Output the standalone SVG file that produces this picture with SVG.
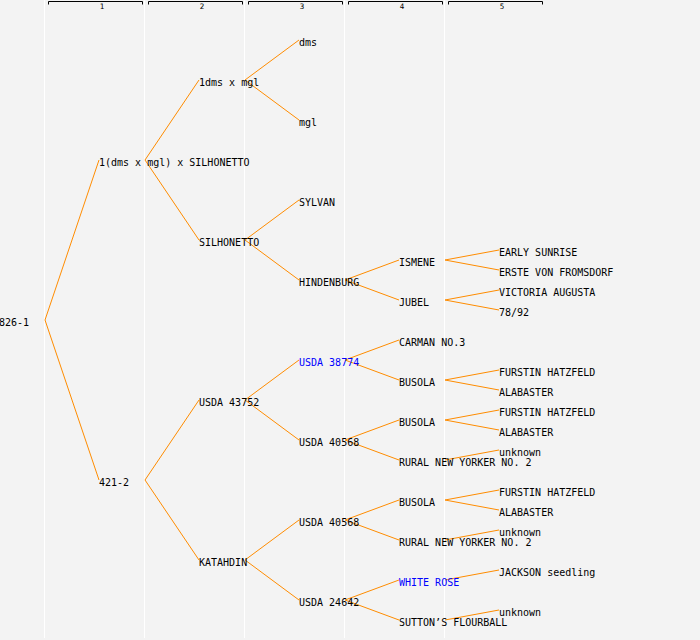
<svg xmlns="http://www.w3.org/2000/svg" width="700" height="640" viewBox="0 0 700 640">
<style>
.t{font-family:"DejaVu Sans Mono","Liberation Mono",monospace;font-size:10px;fill:#000}
.b{fill:#0000ff}
.h{font-family:"DejaVu Sans Mono","Liberation Mono",monospace;font-size:7.5px;fill:#000;text-anchor:middle}
.c{stroke:#ff8c00;stroke-width:1;fill:none}
.col{stroke:#ffffff;stroke-width:1}
.br{stroke:#000;stroke-width:1;fill:none}
</style>
<rect width="700" height="640" fill="#f3f3f3"/>
<g id="columns">
<line class="col" x1="44.5" y1="0" x2="44.5" y2="638"/>
<line class="col" x1="144.5" y1="0" x2="144.5" y2="638"/>
<line class="col" x1="244.5" y1="0" x2="244.5" y2="638"/>
<line class="col" x1="344.5" y1="0" x2="344.5" y2="638"/>
<line class="col" x1="444.5" y1="0" x2="444.5" y2="638"/>
</g>
<g id="header">
<path class="br" d="M48.5,4.5 V1.5 H142.5 V4.5"/>
<path class="br" d="M148.5,4.5 V1.5 H242.5 V4.5"/>
<path class="br" d="M248.5,4.5 V1.5 H342.5 V4.5"/>
<path class="br" d="M348.5,4.5 V1.5 H442.5 V4.5"/>
<path class="br" d="M448.5,4.5 V1.5 H542.5 V4.5"/>
<text class="h" x="102" y="9">1</text>
<text class="h" x="202" y="9">2</text>
<text class="h" x="302" y="9">3</text>
<text class="h" x="402" y="9">4</text>
<text class="h" x="502" y="9">5</text>
</g>
<g id="connectors">
<path class="c" d="M99,160 L45,320 L99,480"/>
<path class="c" d="M199,80 L145,160 L199,240"/>
<path class="c" d="M199,400 L145,480 L199,560"/>
<path class="c" d="M299,40 L245,80 L299,120"/>
<path class="c" d="M299,200 L245,240 L299,280"/>
<path class="c" d="M299,360 L245,400 L299,440"/>
<path class="c" d="M299,520 L245,560 L299,600"/>
<path class="c" d="M399,260 L345,280 L399,300"/>
<path class="c" d="M399,340 L345,360 L399,380"/>
<path class="c" d="M399,420 L345,440 L399,460"/>
<path class="c" d="M399,500 L345,520 L399,540"/>
<path class="c" d="M399,580 L345,600 L399,620"/>
<path class="c" d="M499,250 L445,260 L499,270"/>
<path class="c" d="M499,290 L445,300 L499,310"/>
<path class="c" d="M499,370 L445,380 L499,390"/>
<path class="c" d="M499,410 L445,420 L499,430"/>
<path class="c" d="M499,450 L445,460"/>
<path class="c" d="M499,490 L445,500 L499,510"/>
<path class="c" d="M499,530 L445,540"/>
<path class="c" d="M499,570 L445,580"/>
<path class="c" d="M499,610 L445,620"/>
</g>
<g id="n0"><text class="t" x="-1" y="326">826-1</text></g>
<g id="n1"><text class="t" x="99" y="166">1(dms x mgl) x SILHONETTO</text></g>
<g id="n2"><text class="t" x="99" y="486">421-2</text></g>
<g id="n3"><text class="t" x="199" y="86">1dms x mgl</text></g>
<g id="n4"><text class="t" x="199" y="246">SILHONETTO</text></g>
<g id="n5"><text class="t" x="199" y="406">USDA 43752</text></g>
<g id="n6"><text class="t" x="199" y="566">KATAHDIN</text></g>
<g id="n7"><text class="t" x="299" y="46">dms</text></g>
<g id="n8"><text class="t" x="299" y="126">mgl</text></g>
<g id="n9"><text class="t" x="299" y="206">SYLVAN</text></g>
<g id="n10"><text class="t" x="299" y="286">HINDENBURG</text></g>
<g id="n11"><text class="t b" x="299" y="366">USDA 38774</text></g>
<g id="n12"><text class="t" x="299" y="446">USDA 40568</text></g>
<g id="n13"><text class="t" x="299" y="526">USDA 40568</text></g>
<g id="n14"><text class="t" x="299" y="606">USDA 24642</text></g>
<g id="n15"><text class="t" x="399" y="266">ISMENE</text></g>
<g id="n16"><text class="t" x="399" y="306">JUBEL</text></g>
<g id="n17"><text class="t" x="399" y="346">CARMAN NO.3</text></g>
<g id="n18"><text class="t" x="399" y="386">BUSOLA</text></g>
<g id="n19"><text class="t" x="399" y="426">BUSOLA</text></g>
<g id="n20"><text class="t" x="399" y="466">RURAL NEW YORKER NO. 2</text></g>
<g id="n21"><text class="t" x="399" y="506">BUSOLA</text></g>
<g id="n22"><text class="t" x="399" y="546">RURAL NEW YORKER NO. 2</text></g>
<g id="n23"><text class="t b" x="399" y="586">WHITE ROSE</text></g>
<g id="n24"><text class="t" x="399" y="626">SUTTON’S FLOURBALL</text></g>
<g id="n25"><text class="t" x="499" y="256">EARLY SUNRISE</text></g>
<g id="n26"><text class="t" x="499" y="276">ERSTE VON FROMSDORF</text></g>
<g id="n27"><text class="t" x="499" y="296">VICTORIA AUGUSTA</text></g>
<g id="n28"><text class="t" x="499" y="316">78/92</text></g>
<g id="n29"><text class="t" x="499" y="376">FURSTIN HATZFELD</text></g>
<g id="n30"><text class="t" x="499" y="396">ALABASTER</text></g>
<g id="n31"><text class="t" x="499" y="416">FURSTIN HATZFELD</text></g>
<g id="n32"><text class="t" x="499" y="436">ALABASTER</text></g>
<g id="n33"><text class="t" x="499" y="456">unknown</text></g>
<g id="n34"><text class="t" x="499" y="496">FURSTIN HATZFELD</text></g>
<g id="n35"><text class="t" x="499" y="516">ALABASTER</text></g>
<g id="n36"><text class="t" x="499" y="536">unknown</text></g>
<g id="n37"><text class="t" x="499" y="576">JACKSON seedling</text></g>
<g id="n38"><text class="t" x="499" y="616">unknown</text></g>
</svg>
